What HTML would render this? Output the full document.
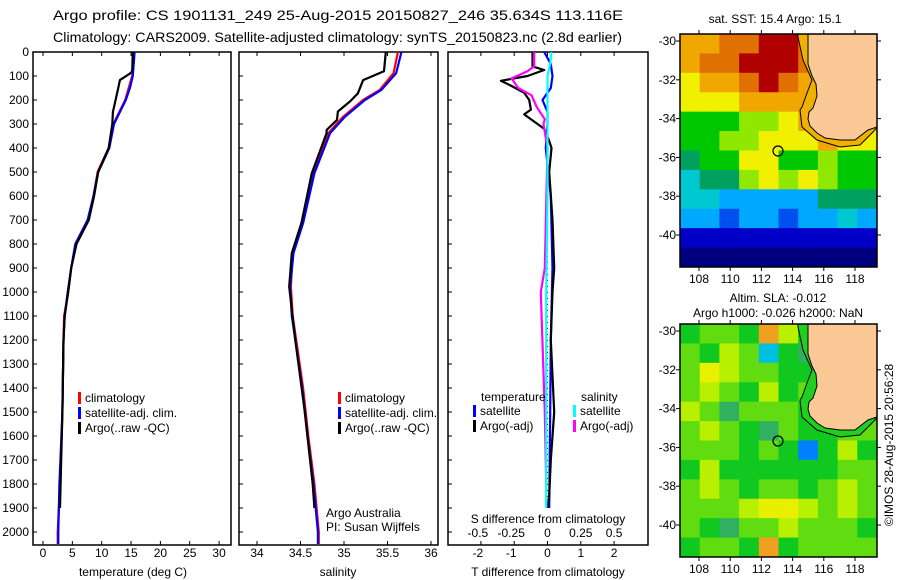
<!DOCTYPE html>
<html><head><meta charset="utf-8"><style>
html,body{margin:0;padding:0;background:#fff;}
svg{display:block;font-family:"Liberation Sans",sans-serif;}
text{fill:#000;}
</style></head><body>
<svg id="chart" width="900" height="580" viewBox="0 0 900 580" xmlns="http://www.w3.org/2000/svg">
<text x="53" y="20" font-size="14" textLength="570" lengthAdjust="spacingAndGlyphs">Argo profile: CS 1901131_249 25-Aug-2015 20150827_246 35.634S 113.116E</text>
<text x="53" y="42" font-size="14" textLength="569" lengthAdjust="spacingAndGlyphs">Climatology: CARS2009. Satellite-adjusted climatology: synTS_20150823.nc (2.8d earlier)</text>
<g id="panels"></g>
<g id="maps"></g>
</svg>
<script>
// ---------- data ----------
const depthLabels = [0,100,200,300,400,500,600,700,800,900,1000,1100,1200,1300,1400,1500,1600,1700,1800,1900,2000];
const tempTicks = [0,5,10,15,20,25,30];
const salTicks = [34,34.5,35,35.5,36];
const salTickLabels = ["34","34.5","35","35.5","36"];
const tdiffTicks = [-2,-1,0,1,2];
const sdiffTickLabels = ["-0.5","-0.25","0","0.25","0.5"];
const sdiffTicks = [-0.5,-0.25,0,0.25,0.5];

const tempClimDepth = [0,100,150,200,300,400,500,600,700,800,900,1000,1100,1200,1500,1800,2000,2050];
const tempClim      = [15.5,15.2,14.6,14.0,12.0,11.2,9.3,8.6,7.7,5.6,4.8,4.3,3.6,3.5,3.3,2.9,2.5,2.5];
const tempSat       = [15.6,15.3,14.8,14.1,12.1,11.3,9.4,8.6,7.6,5.5,4.8,4.2,3.7,3.5,3.3,2.8,2.6,2.6];
const tempArgoDepth = [0,80,90,117,153,250,300,400,500,600,700,800,900,1000,1100,1200,1500,1800,1900];
const tempArgo      = [15.3,15.2,14.8,13.1,12.8,11.9,11.8,11.2,9.4,8.7,7.8,5.7,4.8,4.3,3.7,3.5,3.3,3.0,2.9];

const salClimDepth = [0,88,158,200,270,338,505,713,838,978,1100,1200,1400,1600,1800,2000,2050];
const salClim      = [35.62,35.57,35.41,35.22,34.99,34.82,34.64,34.52,34.41,34.39,34.41,34.45,34.53,34.59,34.66,34.71,34.71];
const salSat       = [35.66,35.60,35.43,35.24,35.01,34.84,34.66,34.53,34.42,34.38,34.40,34.44,34.52,34.58,34.65,34.70,34.70];
const salArgoDepth = [0,80,117,172,206,248,283,325,338,505,713,838,978,1200,1500,1800,1900];
const salArgo      = [35.48,35.46,35.22,35.16,35.07,34.93,34.92,34.80,34.80,34.63,34.51,34.40,34.37,34.44,34.55,34.64,34.66];

const tdDepth    = [0,60,75,100,120,140,170,200,240,260,290,320,370,400,500,700,900,1000,1200,1500,1700,1850,1900];
const tdArgo     = [-0.45,-0.45,-0.1,-0.6,-1.4,-1.1,-0.7,-0.55,-0.5,-0.7,-0.4,-0.1,0.05,0.12,0.05,0.15,0.2,0.15,0.1,0.2,0.1,0.05,0.0];
const tdSatDepth = [0,50,100,150,200,250,300,400,600,900,1200,1500,1900];
const tdSat      = [-0.1,0.1,0.15,0.1,-0.15,0.0,0.0,-0.05,0.1,0.15,0.1,0.08,0.05];
const sdSatDepth = [0,50,100,200,300,600,1000,1500,1900];
const sdSat      = [0.03,0.02,0.0,0.0,0.0,0.0,-0.01,-0.01,-0.01];
const sdArgoDepth= [0,60,80,110,150,180,230,280,300,400,900,1000,1500,1800];
const sdArgo     = [-0.1,-0.1,-0.15,-0.27,-0.22,-0.12,-0.08,-0.02,-0.03,0.0,-0.02,-0.05,-0.02,-0.01];

// SST grid (colour index), 10 cols x 12 rows
const sstGrid = [
[9,9,10,10,11,11,10,10,10,10],
[9,10,10,11,11,11,10,10,10,10],
[8,9,9,10,11,10,9,10,10,10],
[8,8,8,9,9,9,9,9,9,9],
[6,6,6,7,7,8,9,9,9,9],
[6,6,7,7,8,8,8,9,8,8],
[5,6,6,8,8,6,6,7,6,6],
[4,5,5,7,8,7,8,7,6,6],
[4,4,3,3,3,3,3,5,5,5],
[3,3,2,3,3,2,3,3,4,3],
[1,1,1,1,1,1,1,1,1,1],
[0,0,0,0,0,0,0,0,0,0]];
// SLA grid, 10 cols x 12 rows
const slaGrid = [
[5,6,6,5,3,7,5,5,5,5],
[6,5,7,6,2,5,4,5,5,5],
[6,8,7,6,6,5,5,5,5,5],
[6,7,6,5,7,5,6,5,5,5],
[7,6,4,6,6,6,5,6,5,5],
[6,7,6,5,4,6,5,5,6,6],
[6,6,6,5,6,5,1,5,7,5],
[5,7,5,5,5,5,5,5,6,6],
[6,7,6,5,6,6,5,6,7,6],
[6,6,6,7,8,8,7,6,7,6],
[6,5,4,6,6,7,6,6,6,5],
[5,6,6,5,3,5,6,6,6,6]];

// ---------- helpers ----------
const NS="http://www.w3.org/2000/svg";
const svg=document.getElementById('chart');
function mk(tag,attrs,parent){const e=document.createElementNS(NS,tag);for(const k in attrs)e.setAttribute(k,attrs[k]);(parent||svg).appendChild(e);return e;}
function txt(x,y,s,size,anchor,parent){const t=mk('text',{x:x,y:y,'font-size':size||12,'text-anchor':anchor||'start'},parent);t.textContent=s;return t;}

const PT=52, PB=545;
const yD = d => PT + d*0.24;
function xT(v){return 43 + v*5.87;}
function xS(v){return 257 + (v-34)*87;}
function xTD(v){return 547.5 + v*33.3;}
function xSD(v){return 547.5 + v*133.2;}

const panels=document.getElementById('panels');
function frame(x0,x1,name){
  const r=mk('rect',{x:x0,y:PT,width:x1-x0,height:PB-PT,fill:'none',stroke:'#000','stroke-width':1.5},panels);
  
  
  depthLabels.forEach(d=>{
    mk('line',{x1:x0,x2:x0+4,y1:yD(d),y2:yD(d),stroke:'#000'},panels);
  });
}
function line(xs,ds,fx,color,name,w){
  const pts=xs.map((v,i)=>fx(v).toFixed(1)+','+yD(ds[i]).toFixed(1)).join(' ');
  const p=mk('polyline',{points:pts,fill:'none',stroke:color,'stroke-width':w||2.2,'stroke-linejoin':'round'},panels);
  
  
}
function legend(x,y,color,label,name){
  const g=mk('g',{},panels);
  
  
  mk('rect',{x:x,y:y-10,width:3,height:12,fill:color},g);
  txt(x+7,y,label,12,'start',g);
}

// ---------- panel 1: temperature ----------
frame(33,231,'temperature-panel');
depthLabels.forEach(d=>{const t=txt(29,yD(d)+4,String(d),12,'end',panels);});
tempTicks.forEach(v=>{mk('line',{x1:xT(v),x2:xT(v),y1:PT,y2:PT+4,stroke:'#000'},panels);mk('line',{x1:xT(v),x2:xT(v),y1:PB,y2:PB-4,stroke:'#000'},panels);txt(xT(v),557,String(v),12,'middle',panels);});
txt(133,576,'temperature (deg C)',12,'middle',panels);
line(tempClim,tempClimDepth,xT,'#ff0000','temp-climatology-line');
line(tempSat,tempClimDepth,xT,'#0000ff','temp-satellite-line');
line(tempArgo,tempArgoDepth,xT,'#000000','temp-argo-line');
legend(78,402,'#ff0000','climatology','legend-climatology');
legend(78,417,'#0000ff','satellite-adj. clim.','legend-satellite-adj');
legend(78,432,'#000000','Argo(..raw -QC)','legend-argo');

// ---------- panel 2: salinity ----------
frame(239,438,'salinity-panel');
salTicks.forEach((v,i)=>{mk('line',{x1:xS(v),x2:xS(v),y1:PT,y2:PT+4,stroke:'#000'},panels);mk('line',{x1:xS(v),x2:xS(v),y1:PB,y2:PB-4,stroke:'#000'},panels);txt(xS(v),557,salTickLabels[i],12,'middle',panels);});
txt(338,576,'salinity',12,'middle',panels);
line(salClim,salClimDepth,xS,'#ff0000','sal-climatology-line');
line(salSat,salClimDepth,xS,'#0000ff','sal-satellite-line');
line(salArgo,salArgoDepth,xS,'#000000','sal-argo-line');
legend(338,402,'#ff0000','climatology','legend-climatology-sal');
legend(338,417,'#0000ff','satellite-adj. clim.','legend-satellite-adj-sal');
legend(338,432,'#000000','Argo(..raw -QC)','legend-argo-sal');
txt(326,517,'Argo Australia',12,'start',panels);
txt(326,531,'PI: Susan Wijffels',12,'start',panels);

// ---------- panel 3: differences ----------
frame(448,648,'difference-panel');
tdiffTicks.forEach(v=>{mk('line',{x1:xTD(v),x2:xTD(v),y1:PT,y2:PT+4,stroke:'#000'},panels);mk('line',{x1:xTD(v),x2:xTD(v),y1:PB,y2:PB-4,stroke:'#000'},panels);txt(xTD(v)-(v<0?3:0),557,String(v),12,'middle',panels);});
sdiffTicks.forEach((v,i)=>{txt(xSD(v)-(v<0?3:0),537,sdiffTickLabels[i],12,'middle',panels);});
txt(548,523,'S difference from climatology',12,'middle',panels);
txt(548,576,'T difference from climatology',12,'middle',panels);
mk('line',{x1:xTD(0),x2:xTD(0),y1:yD(300),y2:yD(1900),stroke:'#000','stroke-dasharray':'1,5'},panels);
line(tdSat,tdSatDepth,xTD,'#0000ff','tdiff-satellite-line');
line(tdArgo,tdDepth,xTD,'#000000','tdiff-argo-line');
line(sdArgo,sdArgoDepth,xSD,'#ff00ff','sdiff-argo-line');
line(sdSat,sdSatDepth,xSD,'#00ffff','sdiff-satellite-line');
txt(481,401,'temperature',12,'start',panels);
txt(581,401,'salinity',12,'start',panels);
legend(473,415,'#0000ff','satellite','legend-t-satellite');
legend(473,430,'#000000','Argo(-adj)','legend-t-argo');
legend(573,415,'#00ffff','satellite','legend-s-satellite');
legend(573,430,'#ff00ff','Argo(-adj)','legend-s-argo');

// ---------- maps ----------
const maps=document.getElementById('maps');
const sstColors=['#00007f','#0000c8','#0050f0','#00a8ff','#00c8d0','#00a060','#00c800','#90e800','#f0f000','#f0a800','#e07000','#b00000'];
const slaColors=['#0000ff','#0080ff','#00c0e0','#f0a020','#30b060','#10c820','#60dc10','#b8f000','#e8f000'];
const lonTicks=[108,110,112,114,116,118];
const latTicks=[-30,-32,-34,-36,-38,-40];
const landPts=[[128,0],[197,0],[197,93],[188,96],[175,106],[160,106],[145,104],[137,99],[130,92],[128,85],[129,78],[133,74],[137,62],[136,50],[132,42],[128,30]];
const coastPts=[[118,0],[118,3],[123,26],[132,46],[127,59],[122,73],[120,76],[122,93],[137,106],[160,113],[180,111],[193,98],[197,93]];
function drawMap(top,grid,colors,shelf,name){
  const X0=680,W=197,H=233;
  const g=mk('g',{},maps);
  
  
  const cw=W/grid[0].length, ch=H/grid.length;
  grid.forEach((row,r)=>row.forEach((c,k)=>{
    const cell=mk('rect',{x:X0+k*cw,y:top+r*ch,width:cw+0.5,height:ch+0.5,fill:colors[c]},g);
  }));
  const shelfPoly=coastPts.map(p=>(X0+p[0])+','+(top+p[1])).join(' ')+' '+(X0+197)+','+top;
  mk('polygon',{points:shelfPoly,fill:shelf},g);
  const lp=mk('polygon',{points:landPts.map(p=>(X0+p[0])+','+(top+p[1])).join(' '),fill:'#fac995',stroke:'#000','stroke-width':1},g);
  
  mk('polyline',{points:coastPts.map(p=>(X0+p[0])+','+(top+p[1])).join(' '),fill:'none',stroke:'#000','stroke-width':1},g);
  const mkC=mk('circle',{cx:X0+98,cy:top+117,r:5,fill:'none',stroke:'#000','stroke-width':1.2},g);
  
  
  mk('rect',{x:X0,y:top,width:W,height:H,fill:'none',stroke:'#000','stroke-width':1.5},g);
  lonTicks.forEach(v=>{const x=699+(v-108)*15.6;mk('line',{x1:x,x2:x,y1:top,y2:top-4,stroke:'#000'},g);mk('line',{x1:x,x2:x,y1:top+H,y2:top+H+4,stroke:'#000'},g);txt(x,top+H+16,String(v),12,'middle',g);});
  latTicks.forEach(v=>{const y=top+7+(-30-v)*19.4;mk('line',{x1:X0,x2:X0-4,y1:y,y2:y,stroke:'#000'},g);mk('line',{x1:X0+W,x2:X0+W+4,y1:y,y2:y,stroke:'#000'},g);txt(676,y+4,String(v),12,'end',g);});
}
drawMap(34,sstGrid,sstColors,'#f0b000','sst-map');
drawMap(324,slaGrid,slaColors,'#20d020','sla-map');
txt(775,23,'sat. SST: 15.4  Argo: 15.1',12,'middle',maps);
txt(778,302,'Altim. SLA: -0.012',12,'middle',maps);
txt(778,317,'Argo h1000: -0.026  h2000: NaN',12,'middle',maps);
const cp=txt(0,0,'\u00A9IMOS 28-Aug-2015 20:56:28',12,'middle',maps);
cp.setAttribute('transform','translate(893,445) rotate(-90)');

</script>
</body></html>
